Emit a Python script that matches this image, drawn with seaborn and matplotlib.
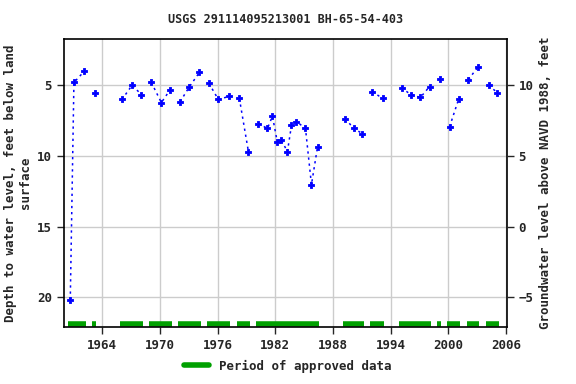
import pandas as pd
import matplotlib
matplotlib.use('Agg')
import matplotlib.pyplot as plt
import seaborn as sns

# measurement dates (decimal year) and depth to water, feet below land surface
years = [1960.66, 1961.04, 1962.10, 1963.20,
         1966.04, 1967.10, 1968.05, 1969.10, 1970.14, 1971.07,
         1972.10, 1973.05, 1974.10, 1975.10, 1976.07, 1977.15,
         1978.26, 1979.20, 1980.24, 1981.18, 1981.70, 1982.20,
         1982.60, 1983.26, 1983.68, 1984.20, 1985.14, 1985.76,
         1986.40, 1989.30, 1990.14, 1991.07, 1992.10, 1993.16,
         1995.14, 1996.07, 1997.10, 1998.05, 1999.10, 2000.14,
         2001.07, 2002.10, 2003.05, 2004.20, 2005.10]
depth = [20.17, 4.81, 4.03, 5.52,
         6.01, 5.00, 5.66, 4.81, 6.23, 5.31,
         6.16, 5.12, 4.10, 4.88, 6.01, 5.80,
         5.94, 9.69, 7.71, 8.06, 7.19, 8.99,
         8.85, 9.69, 7.85, 7.57, 8.06, 12.03,
         9.34, 7.36, 8.06, 8.42, 5.45, 5.94,
         5.17, 5.66, 5.87, 5.10, 4.53, 7.93,
         6.01, 4.60, 3.75, 5.02, 5.52]
# connected runs of points (dotted line drawn within a run)
segment = [0, 0, 0, 1,
           2, 2, 2, 3, 3, 3,
           4, 4, 4, 5, 5, 5,
           6, 6, 7, 7, 7, 7,
           7, 7, 7, 7, 7, 7,
           7, 8, 8, 8, 9, 9,
           10, 10, 10, 10, 11, 12,
           12, 13, 13, 14, 14]

# periods of approved data
approved_start = [1960.42, 1962.90, 1965.83, 1968.85, 1971.88, 1974.90, 1978.00,
                  1980.00, 1989.06, 1991.90, 1994.90, 1998.85, 1999.90, 2001.90, 2003.96]
approved_end = [1962.29, 1963.33, 1968.23, 1971.25, 1974.27, 1977.30, 1979.40,
                1986.56, 1991.25, 1993.33, 1998.23, 1999.27, 2001.25, 2003.23, 2005.30]

df = pd.DataFrame({'year': years, 'depth': depth, 'seg': segment})

sns.set_style('white')
plt.rcParams['font.family'] = ['DejaVu Sans Mono']

fig = plt.figure(figsize=(5.76, 3.84), dpi=100)
ax = fig.add_axes([0.111, 0.148, 0.769, 0.750])

sns.lineplot(data=df, x='year', y='depth', units='seg', estimator=None,
             color='blue', linestyle=(0, (1.5, 2.5)), linewidth=1.1, ax=ax)
sns.scatterplot(data=df, x='year', y='depth', marker='P', s=22,
                color='blue', edgecolor='blue', linewidth=0.6, ax=ax, zorder=3)

ax.hlines([21.9] * len(approved_start), approved_start, approved_end,
          colors='#00a000', linewidth=4)

ax.set_xlim(1960, 2006.1)
ax.set_ylim(22.1, 1.75)
ax.set_xticks(range(1964, 2007, 6))
ax.set_yticks([5, 10, 15, 20])
ax.grid(True, color='#cccccc', linewidth=1)
ax.set_axisbelow(True)
for s in ax.spines.values():
    s.set_color('black')
    s.set_linewidth(1.2)
ax.tick_params(direction='out', length=5, width=1, labelsize=9, left=True, bottom=True)
ax.set_xlabel('')
ax.set_ylabel('Depth to water level, feet below land\nsurface', fontsize=9, fontweight='bold')
ax.set_title('USGS 291114095213001 BH-65-54-403', fontsize=8.5, fontweight='bold', pad=12)

ax2 = ax.twinx()
ax2.set_ylim(15 - 22.1, 15 - 1.75)
ax2.set_yticks([-5, 0, 5, 10])
ax2.tick_params(direction='out', length=5, width=1, labelsize=9, right=True)
ax2.set_ylabel('Groundwater level above NAVD 1988, feet', fontsize=9, fontweight='bold')
for s in ax2.spines.values():
    s.set_visible(False)

for lab in ax.get_xticklabels() + ax.get_yticklabels() + ax2.get_yticklabels():
    lab.set_fontweight('bold')

handle = plt.Line2D([], [], color='#00a000', linewidth=4)
fig.legend([handle], ['Period of approved data'], loc='lower center',
           bbox_to_anchor=(0.5, 0.0), frameon=False,
           prop={'size': 9, 'weight': 'bold'}, handlelength=2.0)

fig.savefig('out.png', dpi=100)
